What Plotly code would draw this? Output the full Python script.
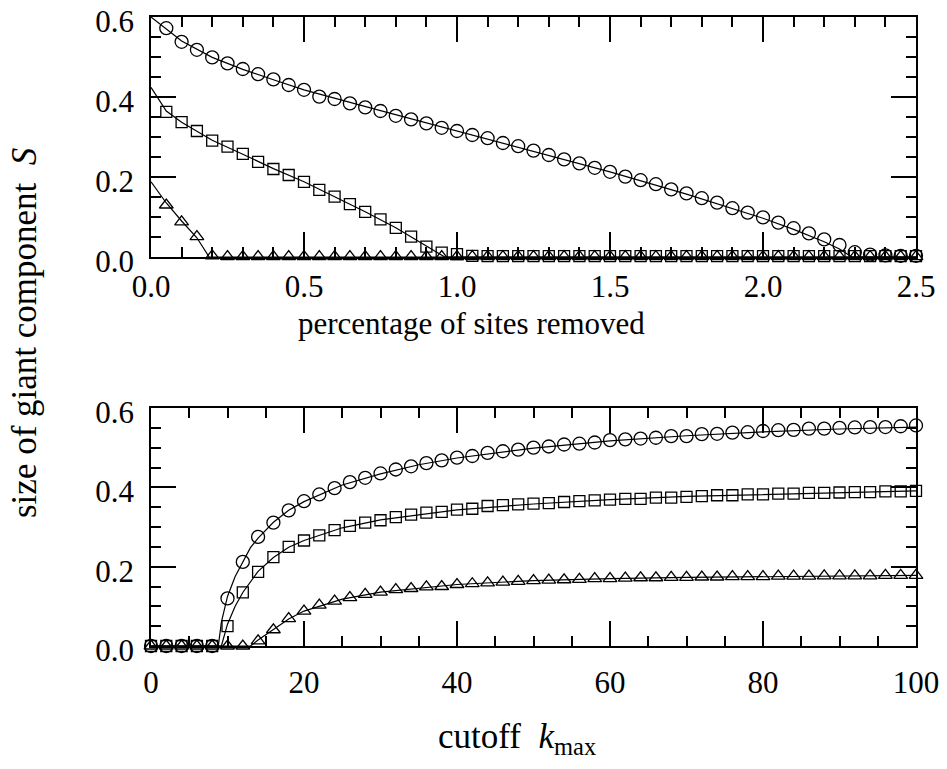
import plotly.graph_objects as go

# ---------------- data: top panel (percentage of sites removed) ----------------
x_top = [0.05, 0.10, 0.15, 0.20, 0.25, 0.30, 0.35, 0.40, 0.45, 0.50,
         0.55, 0.60, 0.65, 0.70, 0.75, 0.80, 0.85, 0.90, 0.95, 1.00,
         1.05, 1.10, 1.15, 1.20, 1.25, 1.30, 1.35, 1.40, 1.45, 1.50,
         1.55, 1.60, 1.65, 1.70, 1.75, 1.80, 1.85, 1.90, 1.95, 2.00,
         2.05, 2.10, 2.15, 2.20, 2.25, 2.30, 2.35, 2.40, 2.45, 2.50]
top_circles = [0.572, 0.538, 0.518, 0.499, 0.484, 0.470, 0.457, 0.444, 0.430, 0.418,
               0.401, 0.395, 0.384, 0.374, 0.365, 0.353, 0.344, 0.334, 0.323, 0.315,
               0.305, 0.297, 0.285, 0.277, 0.266, 0.255, 0.244, 0.234, 0.223, 0.213,
               0.201, 0.192, 0.182, 0.169, 0.159, 0.147, 0.136, 0.122, 0.111, 0.099,
               0.086, 0.072, 0.059, 0.044, 0.030, 0.012, 0.006, 0.004, 0.003, 0.003]
top_squares = [0.363, 0.337, 0.315, 0.291, 0.276, 0.258, 0.238, 0.220, 0.205, 0.188,
               0.168, 0.151, 0.132, 0.113, 0.094, 0.073, 0.051, 0.026, 0.011, 0.007,
               0.003, 0.002, 0.002, 0.002, 0.002, 0.002, 0.002, 0.002, 0.002, 0.002,
               0.002, 0.002, 0.002, 0.002, 0.002, 0.002, 0.002, 0.002, 0.002, 0.002,
               0.002, 0.002, 0.002, 0.002, 0.002, 0.002, 0.002, 0.002, 0.002, 0.002]
top_triangles = [0.130, 0.088, 0.051, 0.003, 0.001, 0.001, 0.001, 0.001, 0.001, 0.001,
                 0.001, 0.001, 0.001, 0.001, 0.001, 0.001, 0.001, 0.001, 0.001, 0.001,
                 0.001, 0.001, 0.001, 0.001, 0.001, 0.001, 0.001, 0.001, 0.001, 0.001,
                 0.001, 0.001, 0.001, 0.001, 0.001, 0.001, 0.001, 0.001, 0.001, 0.001,
                 0.001, 0.001, 0.001, 0.001, 0.001, 0.001, 0.001, 0.001, 0.001, 0.001]

# theory curves (top)
top_circ_line_x = [0.0, 0.05, 0.10, 0.20, 0.30, 0.40, 0.50, 0.75, 1.00, 1.25, 1.50, 1.75, 2.00, 2.10, 2.20, 2.25, 2.29, 2.50]
top_circ_line_y = [0.600, 0.570, 0.540, 0.499, 0.469, 0.443, 0.418, 0.366, 0.315, 0.265, 0.213, 0.157, 0.097, 0.069, 0.038, 0.020, 0.000, 0.000]
top_sq_line_x = [0.0, 0.05, 0.10, 0.20, 0.30, 0.40, 0.50, 0.60, 0.70, 0.80, 0.90, 0.96, 2.50]
top_sq_line_y = [0.424, 0.365, 0.337, 0.292, 0.257, 0.221, 0.188, 0.151, 0.113, 0.073, 0.028, 0.000, 0.000]
top_tri_line_x = [0.0, 0.05, 0.10, 0.15, 0.19, 2.50]
top_tri_line_y = [0.188, 0.135, 0.090, 0.048, 0.000, 0.000]

# ---------------- data: bottom panel (cutoff k_max) ----------------
k_bot = [0, 2, 4, 6, 8, 10, 12, 14, 16, 18, 20, 22, 24, 26, 28, 30, 32, 34, 36, 38, 40,
         42, 44, 46, 48, 50, 52, 54, 56, 58, 60, 62, 64, 66, 68, 70, 72, 74, 76, 78, 80,
         82, 84, 86, 88, 90, 92, 94, 96, 98, 100]
bot_circles = [0, 0, 0, 0, 0,
               0.120, 0.212, 0.275, 0.311, 0.342, 0.365,
               0.382, 0.398, 0.413, 0.424, 0.435,
               0.445, 0.453, 0.461, 0.468, 0.475,
               0.479, 0.487, 0.491, 0.495, 0.500,
               0.503, 0.508, 0.510, 0.513, 0.519,
               0.521, 0.523, 0.525, 0.529, 0.529,
               0.534, 0.535, 0.538, 0.539, 0.542,
               0.544, 0.545, 0.548, 0.548, 0.550,
               0.551, 0.552, 0.552, 0.554, 0.556]
bot_squares = [0, 0, 0, 0, 0,
               0.050, 0.135, 0.187, 0.224, 0.250, 0.266,
               0.279, 0.292, 0.303, 0.311, 0.317,
               0.325, 0.331, 0.336, 0.338, 0.344,
               0.346, 0.353, 0.355, 0.357, 0.359,
               0.360, 0.363, 0.365, 0.367, 0.369,
               0.371, 0.371, 0.374, 0.374, 0.376,
               0.378, 0.380, 0.380, 0.382, 0.382,
               0.384, 0.384, 0.386, 0.386, 0.387,
               0.388, 0.388, 0.390, 0.390, 0.391]
bot_triangles = [0, 0, 0, 0, 0, 0, 0,
                 0.013, 0.041, 0.069, 0.088,
                 0.103, 0.113, 0.122, 0.130, 0.136,
                 0.142, 0.145, 0.149, 0.150, 0.155,
                 0.157, 0.159, 0.161, 0.163, 0.165,
                 0.166, 0.167, 0.168, 0.170, 0.170,
                 0.171, 0.172, 0.172, 0.173, 0.173,
                 0.174, 0.174, 0.175, 0.175, 0.175,
                 0.176, 0.176, 0.176, 0.177, 0.177,
                 0.177, 0.177, 0.178, 0.178, 0.178]

# theory curves (bottom)
bot_circ_line_x = [0, 8.8, 9.2, 10, 11, 12, 13, 14, 16, 18, 20, 25, 30, 35, 40, 50, 60, 70, 80, 90, 100]
bot_circ_line_y = [0, 0.0, 0.060, 0.125, 0.175, 0.212, 0.248, 0.272, 0.312, 0.342, 0.364, 0.406, 0.434, 0.457, 0.474, 0.499, 0.517, 0.530, 0.540, 0.547, 0.552]
bot_sq_line_x = [0, 9.2, 10, 11, 12, 14, 16, 18, 20, 25, 30, 40, 50, 60, 70, 80, 90, 100]
bot_sq_line_y = [0, 0.0, 0.055, 0.100, 0.135, 0.188, 0.223, 0.249, 0.266, 0.298, 0.318, 0.343, 0.358, 0.369, 0.377, 0.382, 0.387, 0.391]
bot_tri_line_x = [0, 13.0, 14, 16, 18, 20, 25, 30, 40, 50, 60, 70, 80, 90, 100]
bot_tri_line_y = [0, 0.0, 0.015, 0.042, 0.068, 0.088, 0.118, 0.136, 0.155, 0.165, 0.170, 0.173, 0.175, 0.177, 0.178]

# tick labels
top_xticks = [0.0, 0.5, 1.0, 1.5, 2.0, 2.5]
top_xticklabels = ["0.0", "0.5", "1.0", "1.5", "2.0", "2.5"]
bot_xticks = [0, 20, 40, 60, 80, 100]
bot_xticklabels = ["0", "20", "40", "60", "80", "100"]
yticks = [0.0, 0.2, 0.4, 0.6]
yticklabels = ["0.0", "0.2", "0.4", "0.6"]

# ---------------- figure ----------------
W, H = 947, 769
OFF = 8  # the page places the plot 8 px in from the top-left corner
FONT = "Liberation Serif"
fig = go.Figure()

def px(xp):
    return (xp - OFF) / W

def py(yp):
    return 1 - (yp - OFF) / H

LW = 1.2
def add_line(x, y, xa, ya):
    fig.add_trace(go.Scatter(x=x, y=y, mode="lines", xaxis=xa, yaxis=ya,
                             line=dict(color="black", width=LW), showlegend=False,
                             hoverinfo="skip", cliponaxis=False))

def add_markers(x, y, symbol, size, xa, ya):
    fig.add_trace(go.Scatter(x=x, y=y, mode="markers", xaxis=xa, yaxis=ya,
                             marker=dict(symbol=symbol, size=size, color="black",
                                         line=dict(color="black", width=1.3)),
                             showlegend=False, cliponaxis=False))

add_line(top_circ_line_x, top_circ_line_y, "x", "y")
add_line(top_sq_line_x, top_sq_line_y, "x", "y")
add_line(top_tri_line_x, top_tri_line_y, "x", "y")
add_markers(x_top, top_circles, "circle-open", 13, "x", "y")
add_markers(x_top, top_squares, "square-open", 11, "x", "y")
add_markers(x_top, top_triangles, "triangle-up-open", 12, "x", "y")

add_line(bot_circ_line_x, bot_circ_line_y, "x2", "y2")
add_line(bot_sq_line_x, bot_sq_line_y, "x2", "y2")
add_line(bot_tri_line_x, bot_tri_line_y, "x2", "y2")
add_markers(k_bot, bot_circles, "circle-open", 13, "x2", "y2")
add_markers(k_bot, bot_squares, "square-open", 11, "x2", "y2")
add_markers(k_bot, bot_triangles, "triangle-up-open", 12, "x2", "y2")

xdom = [px(151), px(916)]
top_dom = [py(257), py(17)]
bot_dom = [py(646), py(408)]

tickfont = dict(family=FONT, size=31, color="black")
common = dict(showline=True, linecolor="black", linewidth=1.5, mirror="allticks",
              ticks="inside", ticklen=25, tickwidth=1.5, tickcolor="black",
              showgrid=False, zeroline=False, tickfont=tickfont, automargin=False,
              ticklabeloverflow="allow")

fig.update_layout(
    width=W, height=H, margin=dict(l=0, r=0, t=0, b=0, pad=0, autoexpand=False),
    paper_bgcolor="white", plot_bgcolor="white",
    xaxis=dict(domain=xdom, range=[0, 2.5], anchor="y",
               tickvals=top_xticks, ticktext=top_xticklabels,
               minor=dict(dtick=0.1, tick0=0, ticklen=10, tickwidth=1.5, ticks="inside", tickcolor="black"),
               ticklabelstandoff=1, **common),
    yaxis=dict(domain=top_dom, range=[0, 0.6], anchor="x",
               tickvals=yticks, ticktext=yticklabels, ticklabelshift=4,
               minor=dict(dtick=0.05, tick0=0, ticklen=10, tickwidth=1.5, ticks="inside", tickcolor="black"),
               ticklabelstandoff=9, **common),
    xaxis2=dict(domain=xdom, range=[0, 100], anchor="y2",
                tickvals=bot_xticks, ticktext=bot_xticklabels,
                minor=dict(dtick=5, tick0=0, ticklen=10, tickwidth=1.5, ticks="inside", tickcolor="black"),
                ticklabelstandoff=8, **common),
    yaxis2=dict(domain=bot_dom, range=[0, 0.6], anchor="x2",
                tickvals=yticks, ticktext=yticklabels, ticklabelshift=4,
                minor=dict(dtick=0.05, tick0=0, ticklen=10, tickwidth=1.5, ticks="inside", tickcolor="black"),
                ticklabelstandoff=9, **common),
)

fig.add_annotation(x=px(471), y=py(323), xref="paper", yref="paper",
                   text="percentage of sites removed", showarrow=False,
                   font=dict(family=FONT, size=31, color="black"),
                   xanchor="center", yanchor="middle")
fig.add_annotation(x=px(517), y=py(738), xref="paper", yref="paper",
                   text="cutoff  <i>k</i><sub>max</sub>", showarrow=False,
                   font=dict(family=FONT, size=35, color="black"),
                   xanchor="center", yanchor="middle")
fig.add_annotation(x=px(24), y=py(333), xref="paper", yref="paper",
                   text="size of giant component  <i>S</i>", showarrow=False,
                   textangle=-90, font=dict(family=FONT, size=35, color="black"),
                   xanchor="center", yanchor="middle")

fig.write_html("out.html")
